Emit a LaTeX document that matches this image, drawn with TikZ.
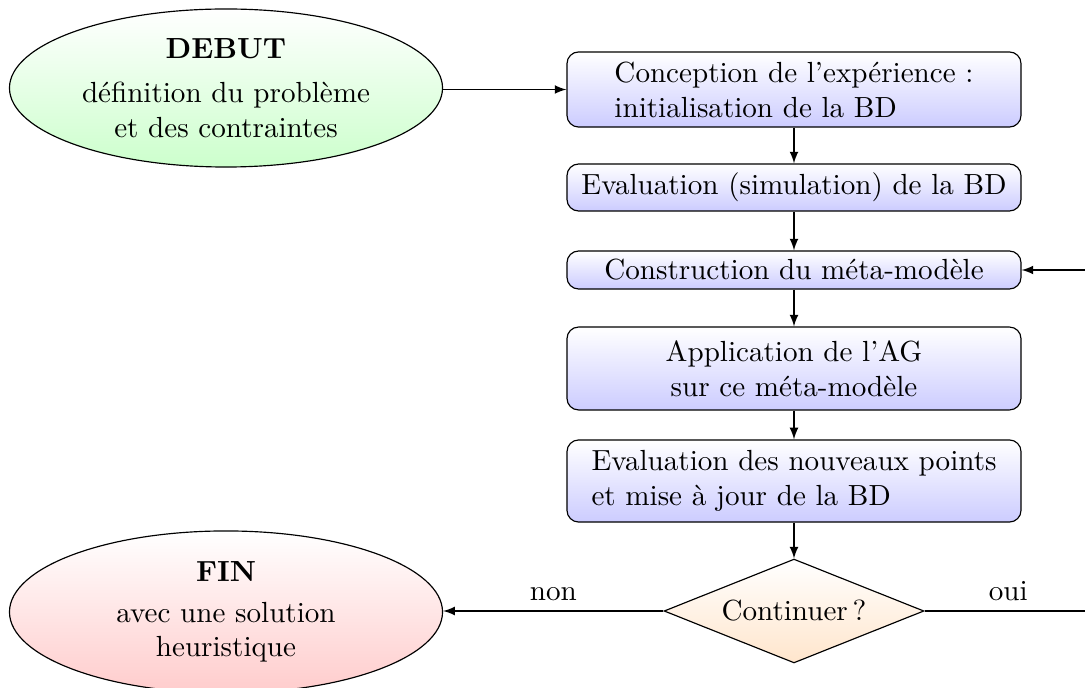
\documentclass[tikz,border=0pt]{standalone}
\usetikzlibrary{shapes.geometric,arrows}
\begin{document}
\begin{tikzpicture}[x=0.3436pt,y=-0.3436pt,
  box/.style={draw, rounded corners=4pt, top color=white, bottom color=blue!20,
    minimum width=156pt, inner sep=2pt},
  term/.style={draw, ellipse, minimum width=148.8pt, minimum height=55.7pt,
    inner sep=0pt, align=center},
  dec/.style={draw, diamond, aspect=2.5, minimum width=89.3pt, minimum height=35.7pt,
    inner sep=0pt, top color=white, bottom color=orange!20},
  arr/.style={-latex}]
\useasboundingbox (0,0) rectangle (1085,688);
\node[term, minimum height=54.3pt, top color=white, bottom color=green!20] (debut) at (226,88)
  {\textbf{DEBUT}\\[3pt] définition du problème\\ et des contraintes};
\node[box, minimum height=25.8pt, align=left] (b1) at (794,89.5)
  {Conception de l’expérience :\\ initialisation de la BD};
\node[box, minimum height=16.15pt] (b2) at (794,187.5)
  {Evaluation (simulation) de la BD};
\node[box, minimum height=13.06pt] (b3) at (794,270)
  {Construction du méta-modèle};
\node[box, minimum height=28.5pt, align=center] (b4) at (794,368.5)
  {Application de l’AG\\ sur ce méta-modèle};
\node[box, minimum height=28.2pt, align=left] (b5) at (794,481)
  {Evaluation des nouveaux points\\ et mise à jour de la BD};
\node[dec] (d) at (794,611) {Continuer\,?};
\node[term, top color=white, bottom color=red!20] (fin) at (226,612)
  {\textbf{FIN}\\[2pt] avec une solution\\ heuristique};
\coordinate (c1) at (1092,611);
\coordinate (c2) at (1092,270);
\draw[arr] (debut.east |- b1.west) -- (b1.west);
\draw[arr] (b1) -- (b2);
\draw[arr] (b2) -- (b3);
\draw[arr] (b3) -- (b4);
\draw[arr] (b4) -- (b5);
\draw[arr] (b5) -- (d);
\draw[arr] (d.west) -- node[above] {non} (fin.east |- d.west);
\draw (d.east) -- node[above] {oui} (c1);
\draw[arr] (c1) -- (c2) -- (b3.east);
\end{tikzpicture}
\end{document}
